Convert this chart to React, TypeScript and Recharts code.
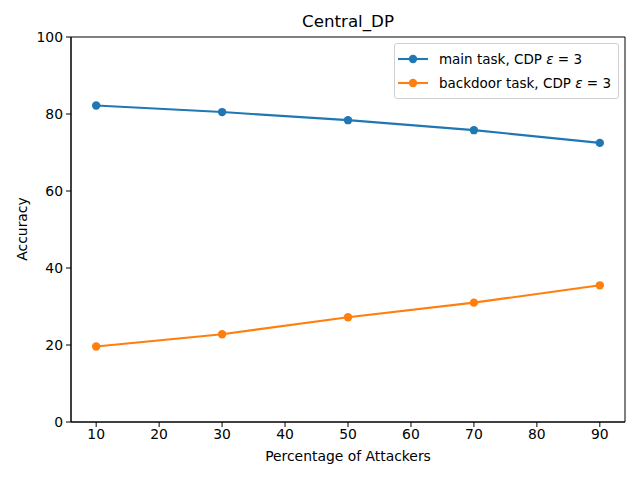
import { LineChart, Line, XAxis, YAxis, ReferenceArea } from "recharts";

const attackers = [10, 30, 50, 70, 90];
const mainTask = [82.2, 80.5, 78.4, 75.8, 72.5];
const backdoorTask = [19.6, 22.8, 27.2, 31.0, 35.5];
const xTicks = [10, 20, 30, 40, 50, 60, 70, 80, 90];
const yTicks = [0, 20, 40, 60, 80, 100];

const BLUE = "#1f77b4";
const ORANGE = "#ff7f0e";
const FONT = "'DejaVu Sans', sans-serif";
const FS = 13.9;

const data = attackers.map((x, i) => ({
  x,
  main: mainTask[i],
  backdoor: backdoorTask[i],
}));

const legendItems = [
  { label: "main task, CDP ", color: BLUE },
  { label: "backdoor task, CDP ", color: ORANGE },
];

function LegendBox() {
  return (
    <div
      style={{
        position: "absolute",
        top: 43,
        right: 21,
        border: "1px solid #d0d0d0",
        borderRadius: 3,
        background: "rgba(255,255,255,0.8)",
        padding: "3px 7px 3px 3px",
        fontFamily: FONT,
        fontSize: 13.5,
        color: "#000",
      }}
    >
      {legendItems.map((it) => (
        <div key={it.label} style={{ display: "flex", alignItems: "center", height: 24 }}>
          <svg width={30} height={12} style={{ marginRight: 11 }}>
            <line x1={0} y1={6} x2={30} y2={6} stroke={it.color} strokeWidth={2.1} />
            <circle cx={15} cy={6} r={4.2} fill={it.color} />
          </svg>
          <span style={{ whiteSpace: "pre" }}>
            {it.label}
            <i>ε</i> = 3
          </span>
        </div>
      ))}
    </div>
  );
}

export default function App() {
  const tickStyle = { fill: "#000", fontSize: FS, fontFamily: FONT };
  return (
    <div style={{ position: "absolute", left: 0, top: 0, width: 640, height: 480, background: "#fff" }}>
      <div
        style={{
          position: "absolute",
          left: 71,
          width: 554,
          top: 11,
          textAlign: "center",
          fontFamily: FONT,
          fontSize: 16.7,
        }}
      >
        Central_DP
      </div>
      <div
        style={{
          position: "absolute",
          left: 71,
          width: 554,
          top: 448,
          textAlign: "center",
          fontFamily: FONT,
          fontSize: FS,
        }}
      >
        Percentage of Attackers
      </div>
      <div
        style={{
          position: "absolute",
          left: 22,
          top: 229,
          transform: "translate(-50%, -50%) rotate(-90deg)",
          fontFamily: FONT,
          fontSize: FS,
          whiteSpace: "nowrap",
        }}
      >
        Accuracy
      </div>
      <LineChart
        width={640}
        height={480}
        data={data}
        margin={{ top: 37, right: 15, left: 0, bottom: 0 }}
      >
        <XAxis
          dataKey="x"
          type="number"
          domain={[6, 94]}
          ticks={xTicks}
          interval={0}
          height={58}
          stroke="#000"
          tickSize={5}
          tickMargin={2}
          tick={tickStyle}
        />
        <YAxis
          type="number"
          domain={[0, 100]}
          ticks={yTicks}
          interval={0}
          width={71}
          stroke="#000"
          tickSize={5}
          tickMargin={3}
          tick={tickStyle}
        />
        <ReferenceArea
          x1={6}
          x2={94}
          y1={0}
          y2={100}
          fill="none"
          fillOpacity={0}
          stroke="#000"
          strokeWidth={1}
          ifOverflow="visible"
        />
        <Line
          dataKey="main"
          stroke={BLUE}
          strokeWidth={2.1}
          dot={{ r: 4.2, fill: BLUE, stroke: BLUE, strokeWidth: 0 }}
          isAnimationActive={false}
        />
        <Line
          dataKey="backdoor"
          stroke={ORANGE}
          strokeWidth={2.1}
          dot={{ r: 4.2, fill: ORANGE, stroke: ORANGE, strokeWidth: 0 }}
          isAnimationActive={false}
        />
      </LineChart>
      <LegendBox />
    </div>
  );
}
